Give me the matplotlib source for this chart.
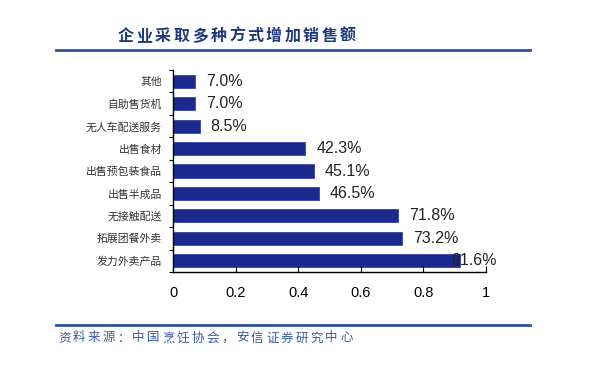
import matplotlib.pyplot as plt
from matplotlib.lines import Line2D

plt.rcParams['font.family'] = ['Noto Sans CJK SC', 'DejaVu Sans']

categories = ['发力外卖产品', '拓展团餐外卖', '无接触配送', '出售半成品', '出售预包装食品',
              '出售食材', '无人车配送服务', '自助售货机', '其他']
values = [0.916, 0.732, 0.718, 0.465, 0.451, 0.423, 0.085, 0.070, 0.070]
xticks = [0, 0.2, 0.4, 0.6, 0.8, 1]
xtick_labels = ['0', '0.2', '0.4', '0.6', '0.8', '1']
title = '企业采取多种方式增加销售额'
source = '资料来源：中国烹饪协会，安信证券研究中心'


def spaced_text(fig, x0, y, s, pitch, **kw):
    # draw one glyph at a time so the spacing matches the original
    for i, ch in enumerate(s):
        fig.text((x0 + i * pitch) / 600, 1 - y / 374, ch, va='center', ha='left', **kw)


fig = plt.figure(figsize=(6, 3.74), dpi=100)
ax = fig.add_axes([173 / 600, 1 - 272 / 374, 313 / 600, 202 / 374])

bar_color = '#1b2a8e'
ypos = range(len(categories))
ax.barh(ypos, values, height=0.58, color=bar_color, edgecolor='#3344a8', linewidth=0.6)

for y, v in zip(ypos, values):
    if v > 0.85:
        # label pushed back to stay inside the chart area
        ax.text(1.035, y, f'{v * 100:.1f}%', va='center', ha='right', clip_on=False,
                fontsize=11.5, color='#222222', family=['Liberation Sans', 'DejaVu Sans'])
    else:
        ax.text(v + 0.035, y, f'{v * 100:.1f}%', va='center', ha='left',
                fontsize=11.5, color='#222222', family=['Liberation Sans', 'DejaVu Sans'])

ax.set_xlim(0, 1)
ax.set_ylim(-0.5, len(categories) - 0.5)
ax.set_yticks(list(ypos))
ax.set_yticklabels(categories, fontsize=7.8, color='#333333')
ax.tick_params(axis='y', length=0, pad=8)
ax.set_yticks([i - 0.5 for i in range(len(categories) + 1)], minor=True)
ax.tick_params(axis='y', which='minor', length=3, direction='out', width=0.8)
ax.set_xticks(xticks)
ax.set_xticklabels(xtick_labels, fontsize=10.5, family=['Liberation Sans', 'DejaVu Sans'])
ax.tick_params(axis='x', direction='in', length=4, width=0.8, pad=10)
ax.spines['top'].set_visible(False)
ax.spines['right'].set_visible(False)
ax.spines['left'].set_linewidth(1.0)
ax.spines['bottom'].set_linewidth(1.0)

# title and separators
spaced_text(fig, 118, 36, title, 18.5, fontsize=11.5, fontweight='bold', color='#1f3a7a')
fig.add_artist(Line2D([56 / 600, 530 / 600], [1 - 50 / 374, 1 - 50 / 374],
                      color='#2e4f9e', linewidth=2))
fig.add_artist(Line2D([56 / 600, 530 / 600], [1 - 325 / 374, 1 - 325 / 374],
                      color='#2e4f9e', linewidth=2))
spaced_text(fig, 58, 338, source, 14.85, fontsize=9, color='#3a5aa0')

fig.savefig('out.png', dpi=100)
